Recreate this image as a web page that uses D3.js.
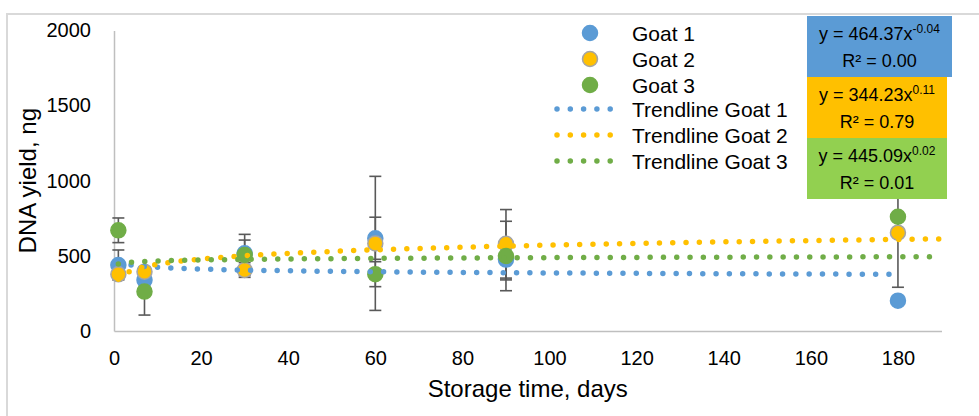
<!DOCTYPE html>
<html>
<head>
<meta charset="utf-8">
<script src="https://cdn.jsdelivr.net/npm/d3@7"></script>
<style>
  html, body { margin: 0; padding: 0; background: #fff; }
  svg { display: block; font-family: "Liberation Sans", Arial, sans-serif; }
</style>
</head>
<body>
<svg id="chart" width="979" height="416"></svg>
<script>
// ---- data ----
const days = [1, 7, 30, 60, 90, 180];
const goat1 = [439, 339, 517, 617, 475, 202];
const goat1Err = [100, 30, 88, 140, 135, 20];
const goat2 = [377, 395, 406, 583, 580, 654];
const goat2Err = [30, 30, 49, 446, 228, 363];
const goat3 = [670, 262, 506, 378, 499, 760];
const goat3Err = [82, 156, 137, 83, 231, 30];
const seriesNames = ["Goat 1", "Goat 2", "Goat 3"];
const trendNames = ["Trendline Goat 1", "Trendline Goat 2", "Trendline Goat 3"];
const trendA = [464.37, 344.23, 445.09];
const trendB = [-0.04, 0.11, 0.02];
const trendAText = ["464.37", "344.23", "445.09"];
const trendBText = ["-0.04", "0.11", "0.02"];
const trendR2 = ["0.00", "0.79", "0.01"];
const trendEnd = [180, 190, 190];
const xTicks = [0, 20, 40, 60, 80, 100, 120, 140, 160, 180];
const yTicks = [0, 500, 1000, 1500, 2000];

// ---- styles ----
const fills = ["#5b9bd5", "#ffc000", "#70ad47"];
const strokes = ["#5b9bd5", "#a5a5a5", "#70ad47"];
const trendColors = ["#5b9bd5", "#ffc000", "#70ad47"];
const boxColors = ["#5b9bd5", "#ffc000", "#92d050"];

const svg = d3.select("#chart");
const x = d3.scaleLinear().domain([0, 190]).range([114, 941.5]);
const y = d3.scaleLinear().domain([0, 2000]).range([331, 30.4]);

// outer frame
svg.append("path").attr("d", "M7,416 L7,14 L979,14")
  .attr("fill", "none").attr("stroke", "#d9d9d9").attr("stroke-width", 2);

// axes
const xAxis = d3.axisBottom(x).tickValues(xTicks).tickSize(0).tickPadding(20).tickFormat(d3.format("d"));
const gx = svg.append("g").attr("transform", `translate(0,${y(0)})`).call(xAxis);
gx.select(".domain").attr("stroke", "#bfbfbf").attr("stroke-width", 1.5);
gx.selectAll("text").attr("font-size", 20).attr("fill", "#000")
  .attr("font-family", "Liberation Sans, Arial, sans-serif");

const yAxis = d3.axisLeft(y).tickValues(yTicks).tickSize(0).tickPadding(23).tickFormat(d3.format("d"));
const gy = svg.append("g").attr("transform", `translate(${x(0)},0)`).call(yAxis);
gy.select(".domain").attr("stroke", "#bfbfbf").attr("stroke-width", 1.5);
gy.selectAll("text").attr("font-size", 20).attr("fill", "#000")
  .attr("font-family", "Liberation Sans, Arial, sans-serif");

// axis titles
svg.append("text").attr("x", (x(0) + x(190)) / 2).attr("y", 397)
  .attr("text-anchor", "middle").attr("font-size", 24).text("Storage time, days");
svg.append("text").attr("transform", `translate(36,${(y(0) + y(2000)) / 2}) rotate(-90)`)
  .attr("text-anchor", "middle").attr("font-size", 24).text("DNA yield, ng");

const vals = [goat1, goat2, goat3];
const errs = [goat1Err, goat2Err, goat3Err];

// error bars
const eb = svg.append("g").attr("stroke", "#595959").attr("stroke-width", 1.6);
vals.forEach((v, s) => {
  days.forEach((d, i) => {
    const e = errs[s][i];
    const cx = x(d), y1 = y(v[i] + e), y2 = y(v[i] - e);
    eb.append("line").attr("x1", cx).attr("x2", cx).attr("y1", y1).attr("y2", y2);
    eb.append("line").attr("x1", cx - 6).attr("x2", cx + 6).attr("y1", y1).attr("y2", y1);
    eb.append("line").attr("x1", cx - 6).attr("x2", cx + 6).attr("y1", y2).attr("y2", y2);
  });
});

// markers
vals.forEach((v, s) => {
  svg.append("g").selectAll("circle").data(days).join("circle")
    .attr("cx", d => x(d)).attr("cy", (d, i) => y(v[i])).attr("r", 7.5)
    .attr("fill", fills[s]).attr("stroke", strokes[s]).attr("stroke-width", 1.5);
});

// trendlines (power fits from displayed coefficients)
const line = d3.line().x(d => x(d[0])).y(d => y(d[1])).curve(d3.curveLinear);
trendA.forEach((a, s) => {
  const pts = d3.range(1, trendEnd[s] + 0.001, 0.5).map(t => [t, a * Math.pow(t, trendB[s])]);
  svg.append("path").attr("d", line(pts)).attr("fill", "none")
    .attr("stroke", trendColors[s]).attr("stroke-width", 5.5)
    .attr("stroke-linecap", "round").attr("stroke-dasharray", "0 13.3");
});

// legend
const lg = svg.append("g").attr("font-size", 21);
seriesNames.forEach((n, i) => {
  const cy = 33 + i * 26;
  lg.append("circle").attr("cx", 590).attr("cy", cy).attr("r", 7.5)
    .attr("fill", fills[i]).attr("stroke", strokes[i]).attr("stroke-width", 1.5);
  lg.append("text").attr("x", 632).attr("y", cy + 7.5).text(n);
});
trendNames.forEach((n, i) => {
  const cy = 109 + i * 26;
  lg.append("line").attr("x1", 557).attr("x2", 623.5).attr("y1", cy).attr("y2", cy)
    .attr("stroke", trendColors[i]).attr("stroke-width", 5.5)
    .attr("stroke-linecap", "round").attr("stroke-dasharray", "0 13.3");
  lg.append("text").attr("x", 632).attr("y", cy + 7.5).text(n);
});

// equation boxes
const boxes = [[807, 16, 145, 61], [807, 77, 140, 61], [807, 138, 140, 61]];
boxes.forEach((b, i) => {
  svg.append("rect").attr("x", b[0]).attr("y", b[1]).attr("width", b[2]).attr("height", b[3])
    .attr("fill", boxColors[i]);
  const cx = b[0] + b[2] / 2;
  const t1 = svg.append("text").attr("x", cx).attr("y", b[1] + 24)
    .attr("text-anchor", "middle").attr("font-size", 18);
  t1.append("tspan").text(`y = ${trendAText[i]}x`);
  t1.append("tspan").attr("dy", -7).attr("font-size", 12).text(trendBText[i]);
  svg.append("text").attr("x", cx).attr("y", b[1] + 51)
    .attr("text-anchor", "middle").attr("font-size", 18).text(`R² = ${trendR2[i]}`);
});
</script>
</body>
</html>
